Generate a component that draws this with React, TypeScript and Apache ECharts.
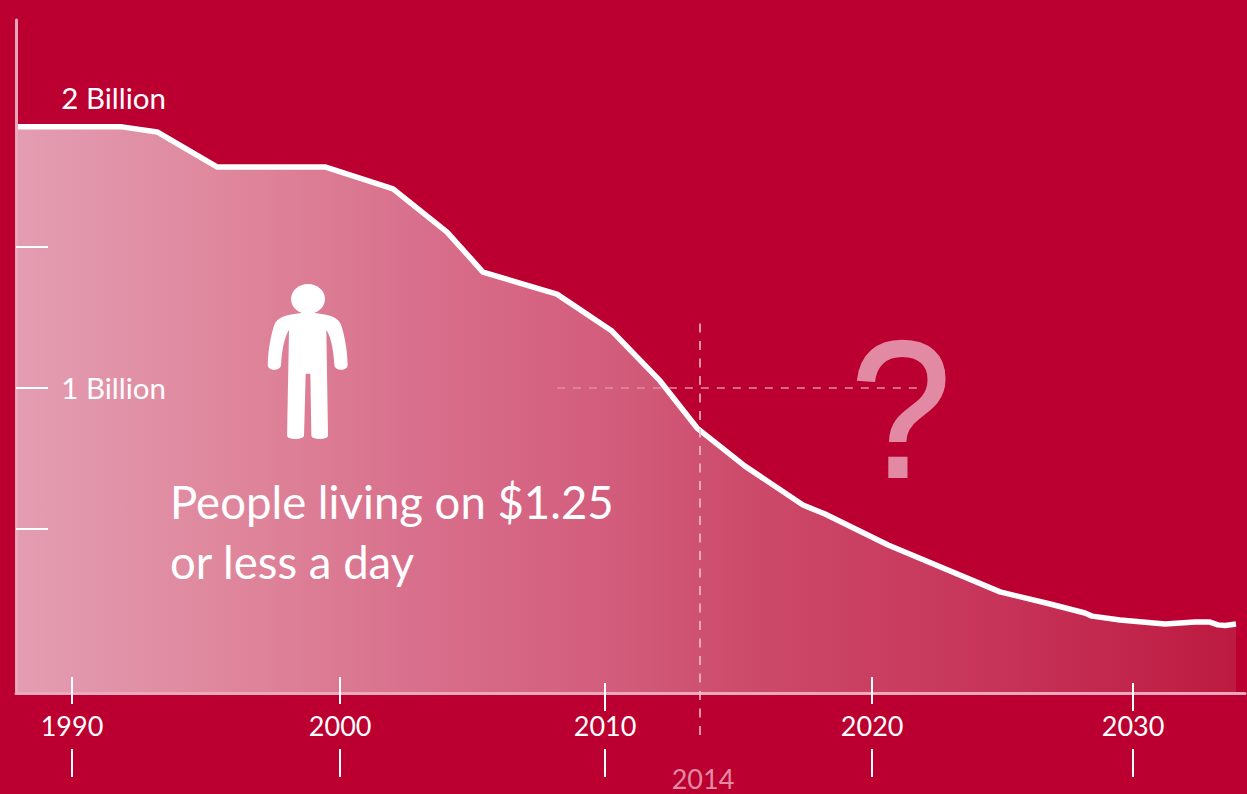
import React, { useEffect, useRef } from "react";
import * as echarts from "echarts";

const years = [1987.89, 1991.88, 1993.2, 1995.45, 1999.51, 2002.07, 2004.1, 2005.45, 2008.23, 2010.3, 2012.11, 2013.5, 2015.3, 2017.48, 2018.31, 2020.68, 2024.89, 2026.77, 2028.08, 2028.35, 2029.4, 2031.09, 2032.22, 2032.78, 2033.08, 2033.35, 2033.76];
const billions = [1.926, 1.926, 1.908, 1.784, 1.784, 1.706, 1.553, 1.411, 1.333, 1.202, 1.025, 0.858, 0.723, 0.585, 0.553, 0.443, 0.277, 0.234, 0.202, 0.191, 0.177, 0.163, 0.17, 0.17, 0.16, 0.158, 0.163];
const decadeTicks = [1990, 2000.08, 2010.04, 2020.08, 2029.89];
const raisedTicks = [1990, 2000.08, 2020.08];
const loweredTicks = [2010.04, 2029.89];
const yTicks = [0.5, 1, 1.5];
const yLabels = [1, 2.03];
const marker2014 = [2013.61];
const FONT = "Lato";
const PINK = "#e28aa3";

const PERSON =
  "M905 760 C860 765 830 772 822 800 C810 840 805 880 804 915 C804 935 843 935 844 915 C846 880 852 835 868 810 L862 1128 C862 1142 912 1142 913 1128 L918 942 L932 942 L935 1128 C935 1142 985 1142 985 1128 L980 810 C996 835 1002 880 1004 915 C1005 935 1044 935 1044 915 C1043 880 1038 840 1026 800 C1018 772 990 765 945 760 Z";

export default function App() {
  const ref = useRef<HTMLDivElement>(null);
  useEffect(() => {
    document.body.style.margin = "0";
    echarts.graphic.registerShape("person", echarts.graphic.extendPath(PERSON, {}));
    const chart = echarts.init(ref.current!, null, { renderer: "svg" });
    const white = { color: "#ffffff", width: 2 };
    const tickAxis = (values: number[], offset: number, length: number, lineStyle: any = white, inside = false) => ({
      type: "value",
      position: "bottom",
      min: 1987.895,
      max: 2034.098,
      offset,
      z: 6,
      axisLine: { show: false, onZero: false },
      splitLine: { show: false },
      axisLabel: { show: false },
      axisTick: { show: true, inside, customValues: values, length, lineStyle },
    });
    chart.setOption({
      animation: false,
      backgroundColor: "#bb0031",
      grid: { left: 16, right: 2, top: 20, bottom: 101 },
      xAxis: [
        {
          type: "value",
          position: "bottom",
          min: 1987.895,
          max: 2034.098,
          z: 5,
          axisLine: { show: true, onZero: false, lineStyle: { color: "#eba9bb", width: 3 } },
          splitLine: { show: false },
          axisTick: { show: false },
          axisLabel: {
            customValues: decadeTicks,
            formatter: (v: number) => String(Math.round(v / 10) * 10),
            color: "#ffffff",
            fontFamily: FONT,
            fontSize: 27,
            margin: 19,
          },
        },
        tickAxis(raisedTicks, 11, 27, white, true),
        tickAxis(loweredTicks, 18, 28, white, true),
        tickAxis(decadeTicks, 56, 28),
        tickAxis(marker2014, 42, 413, { color: "#f3c4d1", width: 1.5, type: [9, 8.5] }, true),
      ],
      yAxis: {
        type: "value",
        min: -0.0816,
        max: 2.305,
        z: 5,
        axisLine: { show: true, onZero: false, lineStyle: { color: "#eba9bb", width: 3 } },
        splitLine: { show: false },
        axisTick: { show: true, inside: true, length: 32, customValues: yTicks, lineStyle: white },
        axisLabel: {
          inside: true,
          align: "right",
          margin: 150,
          customValues: yLabels,
          formatter: (v: number) => `${Math.round(v)} Billion`,
          color: "#ffffff",
          fontFamily: FONT,
          fontSize: 29.5,
        },
      },
      series: [
        {
          type: "line",
          clip: false,
          symbol: "none",
          z: 3,
          data: years.map((y, i) => [y, billions[i]]),
          lineStyle: { color: "#ffffff", width: 5.5 },
          areaStyle: {
            origin: "start",
            opacity: 1,
            color: new echarts.graphic.LinearGradient(0, 0, 1, 0, [
              { offset: 0, color: "#e39db2" },
              { offset: 0.2, color: "#de8399" },
              { offset: 0.33, color: "#d86f8c" },
              { offset: 0.5, color: "#d25b7a" },
              { offset: 0.6, color: "#cc4a6a" },
              { offset: 0.8, color: "#c7345a" },
              { offset: 1, color: "#bd1a40" },
            ]),
          },
          markLine: {
            silent: true,
            symbol: "none",
            label: { show: false },
            data: [
              [
                { coord: [2008.23, 1], lineStyle: { color: "#e28aa3", width: 1.5, type: [8, 8] } },
                { coord: [2021.88, 1] },
              ],
            ],
          },
        },
      ],
      graphic: [
        { type: "ellipse", shape: { cx: 308, cy: 299, rx: 17, ry: 15 }, style: { fill: "#ffffff" }, z: 10 },
        { type: "person", x: 0, y: 60, scaleX: 1 / 3, scaleY: 1 / 3, style: { fill: "#ffffff" }, z: 10 },
        { type: "text", x: 170, y: 501, z: 10, style: { text: "People living on $1.25", fill: "#ffffff", font: `45.5px ${FONT}`, textVerticalAlign: "middle" } },
        { type: "text", x: 170, y: 561, z: 10, style: { text: "or less a day", fill: "#ffffff", font: `45.5px ${FONT}`, textVerticalAlign: "middle" } },
        { type: "text", x: 901, y: 410, scaleX: 0.93, z: 10, style: { text: "?", fill: PINK, stroke: PINK, lineWidth: 2, font: `195px "Liberation Sans"`, textAlign: "center", textVerticalAlign: "middle" } },
        { type: "text", x: 703, y: 778, z: 10, style: { text: "2014", fill: PINK, font: `27px ${FONT}`, textAlign: "center", textVerticalAlign: "middle" } },
      ],
    });
    return () => chart.dispose();
  }, []);
  return <div ref={ref} style={{ position: "absolute", left: 0, top: 0, width: 1247, height: 794 }} />;
}
